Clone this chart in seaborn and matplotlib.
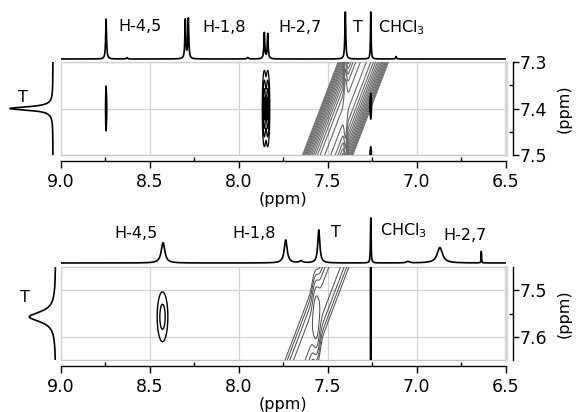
import numpy as np
import matplotlib
matplotlib.use('Agg')
import matplotlib.pyplot as plt
import seaborn as sns
import pandas as pd
from matplotlib.patches import Rectangle

sns.set_style('white')
plt.rcParams['font.family'] = ['DejaVu Sans']
plt.rcParams['mathtext.fontset'] = 'dejavusans'
for k in ['text.color', 'axes.labelcolor', 'xtick.color', 'ytick.color']:
    plt.rcParams[k] = 'black'

W, H = 577, 412

# ---------------- data ----------------
x_ticks = [9.0, 8.5, 8.0, 7.5, 7.0, 6.5]
x_tick_labels = ['9.0', '8.5', '8.0', '7.5', '7.0', '6.5']
x_minor = [8.75, 8.25, 7.75, 7.25, 6.75]

top_y_ticks = [7.3, 7.4, 7.5]
top_y_labels = ['7.3', '7.4', '7.5']
top_y_minor = [7.35, 7.45]
bot_y_ticks = [7.5, 7.6]
bot_y_labels = ['7.5', '7.6']
bot_y_minor = [7.55]

# 1D (f2) spectrum above each map: peak position, height, half width
top_f2_ppm = [8.745, 8.628, 8.300, 8.283, 7.950, 7.856, 7.837, 7.401, 7.258, 7.116]
top_f2_height = [40, 1.5, 39, 40, 1.5, 26, 25, 47, 47, 2.5]
top_f2_hw = [0.003, 0.004, 0.003, 0.003, 0.005, 0.003, 0.003, 0.003, 0.002, 0.003]

bot_f2_ppm = [8.425, 7.736, 7.650, 7.550, 7.258, 7.050, 6.870, 6.637]
bot_f2_height = [20.5, 23, 2, 33, 45, 1.5, 15.5, 11.5]
bot_f2_hw = [0.012, 0.010, 0.010, 0.007, 0.002, 0.010, 0.018, 0.0015]

# 1D (f1) spectrum at left of each map
top_f1_ppm = [7.400]
top_f1_height = [43]
top_f1_hw = [0.0045]
bot_f1_ppm = [7.557]
bot_f1_height = [25]
bot_f1_hw = [0.013]

# cross peaks (black contours)
top_cross_x = [8.745, 7.856, 7.837, 7.258, 7.258]
top_cross_y = [7.400, 7.400, 7.400, 7.395, 7.505]
top_cross_sx = [0.002, 0.006, 0.006, 0.0025, 0.0025]
top_cross_sy = [0.025, 0.042, 0.042, 0.0145, 0.012]
top_cross_levels = [0.15, 0.35, 0.6, 0.85]

bot_cross_x = [8.428, 7.258]
bot_cross_y = [7.557, 7.550]
bot_cross_sx = [0.0224, 0.0016]
bot_cross_sy = [0.0397, 1.0]
bot_cross_levels = [0.41, 0.8]

# diagonal band (grey contours): offset x-y, width, amplitude; plus diagonal T peak
top_diag_offset = 0.0
top_diag_sd = 0.052
top_diag_amp = 1.0
top_diag_peak = (7.40, 7.40, 0.006, 0.20, 0.5)   # x, y, sx, sy, amp
top_diag_levels = list(np.geomspace(0.025, 0.95, 14))

bot_diag_offset = 0.01
bot_diag_sd = 0.036
bot_diag_amp = 0.6
bot_diag_peak = (7.565, 7.56, 0.012, 0.04, 1.0)
bot_diag_levels = list(np.geomspace(0.05, 0.8, 5))

# ---------------- helpers ----------------
def lorentz(grid, pos, height, hw):
    out = np.zeros_like(grid)
    for p, h, g in zip(pos, height, hw):
        out += h * g * g / ((grid - p) ** 2 + g * g)
    return out


def gauss2d(X, Y, xs, ys, sxs, sys_, amps=None):
    out = np.zeros_like(X)
    if amps is None:
        amps = [1.0] * len(xs)
    for x0, y0, sx, sy, a in zip(xs, ys, sxs, sys_, amps):
        out += a * np.exp(-((X - x0) ** 2) / (2 * sx * sx) - ((Y - y0) ** 2) / (2 * sy * sy))
    return out


def diag_field(X, Y, off, sd, amp, peak):
    px, py, psx, psy, pa = peak
    f = amp * np.exp(-((X - Y - off) ** 2) / (2 * sd ** 2))
    f += pa * np.exp(-((X - px) ** 2) / (2 * psx ** 2) - ((Y - py) ** 2) / (2 * psy ** 2))
    return f


fig = plt.figure(figsize=(W / 100, H / 100), dpi=100)


def px_axes(x0, y0, x1, y1):
    return fig.add_axes([x0 / W, 1 - y1 / H, (x1 - x0) / W, (y1 - y0) / H])


XL, XR = 60.7, 505.7
xg = np.linspace(9.0, 6.5, 5001)


def style_main(ax, ylim, yt, ytl, ymin):
    ax.set_xlim(9.0, 6.5)
    ax.set_ylim(*ylim)
    ax.set_xticks(x_ticks)
    ax.set_xticklabels(x_tick_labels)
    ax.set_xticks(x_minor, minor=True)
    ax.set_yticks(yt)
    ax.set_yticklabels(ytl)
    ax.set_yticks(ymin, minor=True)
    ax.set_axisbelow(True)
    ax.grid(True, which='major', color='#d2d2d2', lw=0.9)
    for s in ['left', 'top']:
        ax.spines[s].set_visible(False)
    ax.spines['bottom'].set_position(('outward', 4))
    ax.spines['right'].set_position(('outward', 5))
    for s in ['bottom', 'right']:
        ax.spines[s].set_color('black')
        ax.spines[s].set_linewidth(1.0)
        ax.spines[s].set_visible(True)
    ax.yaxis.tick_right()
    ax.yaxis.set_label_position('right')
    ax.tick_params(axis='x', which='major', direction='out', length=5, width=1,
                   labelsize=12.5, pad=4, bottom=True, top=False)
    ax.tick_params(axis='x', which='minor', direction='in', length=3, width=1,
                   bottom=True, top=False)
    ax.tick_params(axis='y', which='major', direction='out', length=4, width=1,
                   labelsize=12.5, pad=1, right=True, left=False)
    ax.tick_params(axis='y', which='minor', direction='in', length=3, width=1,
                   right=True, left=False)
    ax.add_patch(Rectangle((0, 0), 1, 1, transform=ax.transAxes, fill=False,
                           ec='#c8c8c8', lw=1, zorder=0.5, clip_on=False))
    ax.plot([1, 1], [0, 1], transform=ax.transAxes, color='#d6d6d6', lw=2.5,
            clip_on=False, zorder=0.6)
    ax.set_xlabel('(ppm)', fontsize=11.5, labelpad=1)
    ax.set_ylabel('(ppm)', fontsize=11.5, labelpad=7, rotation=90)


def spectrum_top(y0, y1, pos, hgt, hw):
    ax = px_axes(XL, y0, XR, y1)
    df = pd.DataFrame({'ppm': xg, 'I': lorentz(xg, pos, hgt, hw)})
    sns.lineplot(data=df, x='ppm', y='I', ax=ax, color='black', lw=1.2,
                 estimator=None, sort=False)
    ax.set_xlim(9.0, 6.5)
    ax.set_ylim(-1, 51)
    ax.axis('off')
    return ax


def spectrum_left(x0, x1, y0, y1, ylim, pos, hgt, hw):
    ax = px_axes(x0, y0, x1, y1)
    yy = np.linspace(min(ylim), max(ylim), 2001)
    df = pd.DataFrame({'ppm': yy, 'I': -lorentz(yy, pos, hgt, hw)})
    sns.lineplot(data=df, x='I', y='ppm', ax=ax, color='black', lw=1.2,
                 estimator=None, sort=False)
    ax.set_ylim(*ylim)
    ax.set_xlim(-48, 4)
    ax.axis('off')
    return ax


# ---------------- top panel ----------------
T0, T1 = 62, 155
ax1 = px_axes(XL, T0, XR, T1)
style_main(ax1, (7.5, 7.3), top_y_ticks, top_y_labels, top_y_minor)
yg1 = np.linspace(7.3, 7.5, 401)
X1, Y1 = np.meshgrid(xg, yg1)
diag1 = diag_field(X1, Y1, top_diag_offset, top_diag_sd, top_diag_amp, top_diag_peak)
ax1.contour(X1, Y1, diag1, levels=top_diag_levels, colors='#6a6a6a', linewidths=0.8)
cross1 = gauss2d(X1, Y1, top_cross_x, top_cross_y, top_cross_sx, top_cross_sy)
ax1.contour(X1, Y1, cross1, levels=top_cross_levels, colors='black', linewidths=0.9)

spectrum_top(8, 60, top_f2_ppm, top_f2_height, top_f2_hw)
spectrum_left(5, 57, T0, T1, (7.5, 7.3), top_f1_ppm, top_f1_height, top_f1_hw)

# ---------------- bottom panel ----------------
B0, B1 = 267, 360
ax2 = px_axes(XL, B0, XR, B1)
style_main(ax2, (7.649, 7.451), bot_y_ticks, bot_y_labels, bot_y_minor)
yg2 = np.linspace(7.451, 7.649, 401)
X2, Y2 = np.meshgrid(xg, yg2)
diag2 = diag_field(X2, Y2, bot_diag_offset, bot_diag_sd, bot_diag_amp, bot_diag_peak)
ax2.contour(X2, Y2, diag2, levels=bot_diag_levels, colors='#4a4a4a', linewidths=0.7)
cross2 = gauss2d(X2, Y2, bot_cross_x, bot_cross_y, bot_cross_sx, bot_cross_sy)
ax2.contour(X2, Y2, cross2, levels=bot_cross_levels, colors='black', linewidths=1.0)

spectrum_top(212, 264, bot_f2_ppm, bot_f2_height, bot_f2_hw)
spectrum_left(5, 60, B0, B1, (7.649, 7.451), bot_f1_ppm, bot_f1_height, bot_f1_hw)

# ---------------- labels ----------------
def label(txt, x, y, ha='center'):
    fig.text(x / W, 1 - y / H, txt, ha=ha, va='baseline', fontsize=11.5)

label('H-4,5', 140, 31)
label('H-1,8', 224, 32)
label('H-2,7', 300, 32)
label('T', 358, 32)
label('CHCl$_3$', 378, 32, ha='left')
label('T', 22.5, 102)

label('H-4,5', 136, 238)
label('H-1,8', 254, 238)
label('T', 336, 237)
label('CHCl$_3$', 380, 235, ha='left')
label('H-2,7', 465, 240)
label('T', 25, 302)

fig.savefig('out.png', dpi=100)
